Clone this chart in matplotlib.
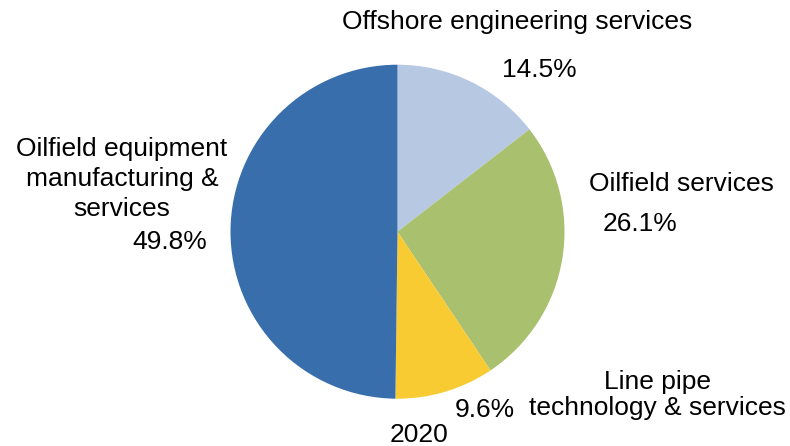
import matplotlib.pyplot as plt

plt.rcParams['font.family'] = ['Liberation Sans', 'DejaVu Sans']

segments = ['Offshore engineering services', 'Oilfield services',
            'Line pipe\ntechnology & services',
            'Oilfield equipment\nmanufacturing &\nservices']
shares = [14.5, 26.1, 9.6, 49.8]
colors = ['#B7C8E3', '#A9C06F', '#F9CB33', '#376EAB']
year = '2020'

W, H = 790, 446
fig = plt.figure(figsize=(W / 100, H / 100), dpi=100)
ax = fig.add_axes([0, 0, 1, 1])

cx, cy, r = 397.5, H - 231.7, 167
ax.pie(shares, colors=colors, startangle=90, counterclock=False,
       center=(cx, cy), radius=r, frame=True,
       wedgeprops=dict(linewidth=0))
ax.set_xlim(0, W)
ax.set_ylim(0, H)
ax.axis('off')

fs = 19
# category names
ax.text(517, H - 22, segments[0], fontsize=fs, ha='center', va='center')
ax.text(681, H - 184, segments[1], fontsize=fs, ha='center', va='center')
ax.text(657, H - 395, segments[2], fontsize=fs, ha='center', va='center',
        multialignment='center', linespacing=1.15)
ax.text(122, H - 179, segments[3], fontsize=fs, ha='center', va='center',
        multialignment='center', linespacing=1.32)

# percentage labels
pct_pos = [(539, 70), (640, 224), (485, 410), (170, 242)]
for v, (x, y) in zip(shares, pct_pos):
    ax.text(x, H - y, f'{v}%', fontsize=fs, ha='center', va='center')

ax.text(419, H - 435, year, fontsize=fs, ha='center', va='center')

fig.savefig('out.png', dpi=100)
